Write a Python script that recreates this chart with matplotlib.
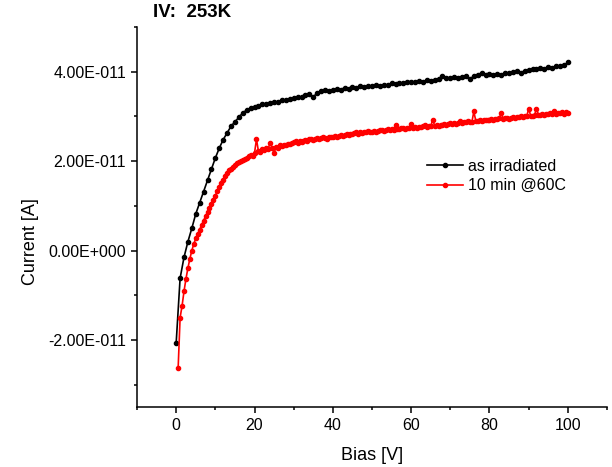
import matplotlib
matplotlib.use('Agg')
import matplotlib.pyplot as plt
import numpy as np
from matplotlib.ticker import MultipleLocator, FixedLocator, FuncFormatter

plt.rcParams['font.family'] = ['Liberation Sans', 'DejaVu Sans']

# bias sweeps [V]
bias_irr = np.arange(0, 101, 1.0)
bias_ann = np.arange(0.5, 100.01, 0.5)

# currents in units of 1e-11 A
cur_irr = [
    -2.06, -0.62, -0.15, 0.20, 0.50, 0.82, 1.07, 1.32, 1.57, 1.82,
    2.07, 2.29, 2.48, 2.63, 2.78, 2.88, 2.98, 3.08, 3.14, 3.18,
    3.22, 3.24, 3.27, 3.28, 3.31, 3.33, 3.32, 3.36, 3.37, 3.38,
    3.42, 3.44, 3.43, 3.47, 3.50, 3.44, 3.52, 3.56, 3.58, 3.57,
    3.59, 3.61, 3.60, 3.64, 3.62, 3.65, 3.64, 3.67, 3.66, 3.68,
    3.67, 3.70, 3.69, 3.71, 3.70, 3.74, 3.72, 3.75, 3.74, 3.77,
    3.78, 3.76, 3.79, 3.78, 3.81, 3.80, 3.82, 3.83, 3.91, 3.86,
    3.86, 3.88, 3.87, 3.89, 3.91, 3.84, 3.90, 3.92, 3.98, 3.93,
    3.94, 3.92, 3.95, 3.93, 3.96, 3.97, 3.99, 4.01, 3.98, 4.02,
    4.04, 4.07, 4.05, 4.08, 4.07, 4.11, 4.09, 4.12, 4.13, 4.14,
    4.21,
]

cur_ann = [
    -2.63, -1.50, -1.24, -0.91, -0.63, -0.39, -0.18, 0.00, 0.15, 0.27,
    0.37, 0.47, 0.57, 0.67, 0.77, 0.86, 0.96, 1.05, 1.14, 1.23,
    1.33, 1.42, 1.50, 1.58, 1.66, 1.74, 1.79, 1.83, 1.87, 1.91,
    1.95, 1.98, 2.01, 2.03, 2.05, 2.08, 2.11, 2.14, 2.12, 2.18,
    2.49, 2.22, 2.20, 2.27, 2.25, 2.30, 2.28, 2.41, 2.30, 2.18,
    2.32, 2.30, 2.35, 2.33, 2.37, 2.36, 2.39, 2.38, 2.40, 2.42,
    2.44, 2.41, 2.45, 2.43, 2.46, 2.48, 2.45, 2.49, 2.50, 2.47,
    2.50, 2.52, 2.49, 2.51, 2.53, 2.52, 2.50, 2.53, 2.55, 2.53,
    2.56, 2.55, 2.57, 2.59, 2.56, 2.58, 2.60, 2.58, 2.61, 2.60,
    2.62, 2.64, 2.61, 2.65, 2.63, 2.66, 2.64, 2.67, 2.65, 2.66,
    2.68, 2.66, 2.67, 2.69, 2.70, 2.68, 2.70, 2.72, 2.69, 2.71,
    2.70, 2.81, 2.72, 2.71, 2.73, 2.74, 2.72, 2.75, 2.74, 2.83,
    2.74, 2.76, 2.75, 2.77, 2.76, 2.78, 2.81, 2.77, 2.79, 2.78,
    2.93, 2.79, 2.80, 2.78, 2.81, 2.80, 2.82, 2.81, 2.83, 2.85,
    2.84, 2.86, 2.83, 2.85, 2.89, 2.86, 2.88, 2.87, 2.90, 2.88,
    2.87, 3.11, 2.90, 2.89, 2.91, 2.90, 2.92, 2.93, 2.91, 2.93,
    2.94, 2.92, 2.95, 2.94, 2.96, 3.07, 2.95, 2.97, 2.96, 2.95,
    2.97, 2.98, 2.96, 2.99, 2.98, 3.00, 2.99, 3.01, 3.00, 3.17,
    3.02, 3.01, 3.03, 3.17, 3.04, 3.03, 3.05, 3.04, 3.06, 3.05,
    3.07, 3.05, 3.11, 3.06, 3.08, 3.07, 3.09, 3.06, 3.10, 3.08,
]

# y tick positions [A]
yticks = [-2e-11, 0, 2e-11, 4e-11]

cur_irr = np.array(cur_irr) * 1e-11
cur_ann = np.array(cur_ann) * 1e-11


def sci_fmt(v, pos):
    m, e = f"{v:.2E}".split('E')
    return f"{m}E{int(e):+04d}"


fig = plt.figure(figsize=(6.12, 4.67), dpi=100)
ax = fig.add_axes([0.2239, 0.1285, 0.7679, 0.8137])

ax.plot(bias_irr, cur_irr, '-o', color='black', lw=1.2, ms=3, label='as irradiated')
ax.plot(bias_ann, cur_ann, '-o', color='red', lw=1.2, ms=3, label='10 min @60C')

ax.set_xlim(-10, 110)
ax.set_ylim(-3.5e-11, 5e-11)
ax.xaxis.set_major_locator(MultipleLocator(20))
ax.xaxis.set_minor_locator(MultipleLocator(10))
ax.yaxis.set_major_locator(FixedLocator(yticks))
ax.yaxis.set_minor_locator(MultipleLocator(1e-11))
ax.yaxis.set_major_formatter(FuncFormatter(sci_fmt))
ax.yaxis.get_offset_text().set_visible(False)

for s in ['top', 'right']:
    ax.spines[s].set_visible(False)
for s in ['left', 'bottom']:
    ax.spines[s].set_linewidth(1.1)

ax.tick_params(which='major', direction='out', length=4, width=1.1, labelsize=11.5, pad=4)
ax.tick_params(which='minor', direction='out', length=2.5, width=1.1)

ax.set_xlabel('Bias [V]', fontsize=13, labelpad=10)
ax.set_ylabel('Current [A]', fontsize=13)
ax.yaxis.set_label_coords(-0.208, 0.435)

fig.text(0.25, 0.973, 'IV:  253K', fontsize=13.5, fontweight='bold', va='center', ha='left')

ax.legend(loc='center left', bbox_to_anchor=(0.617, 0.608), frameon=False, fontsize=11.5,
          handlelength=2.25, handletextpad=0.3, labelspacing=0.3, borderpad=0, borderaxespad=0)

fig.savefig('out.png', dpi=100)
